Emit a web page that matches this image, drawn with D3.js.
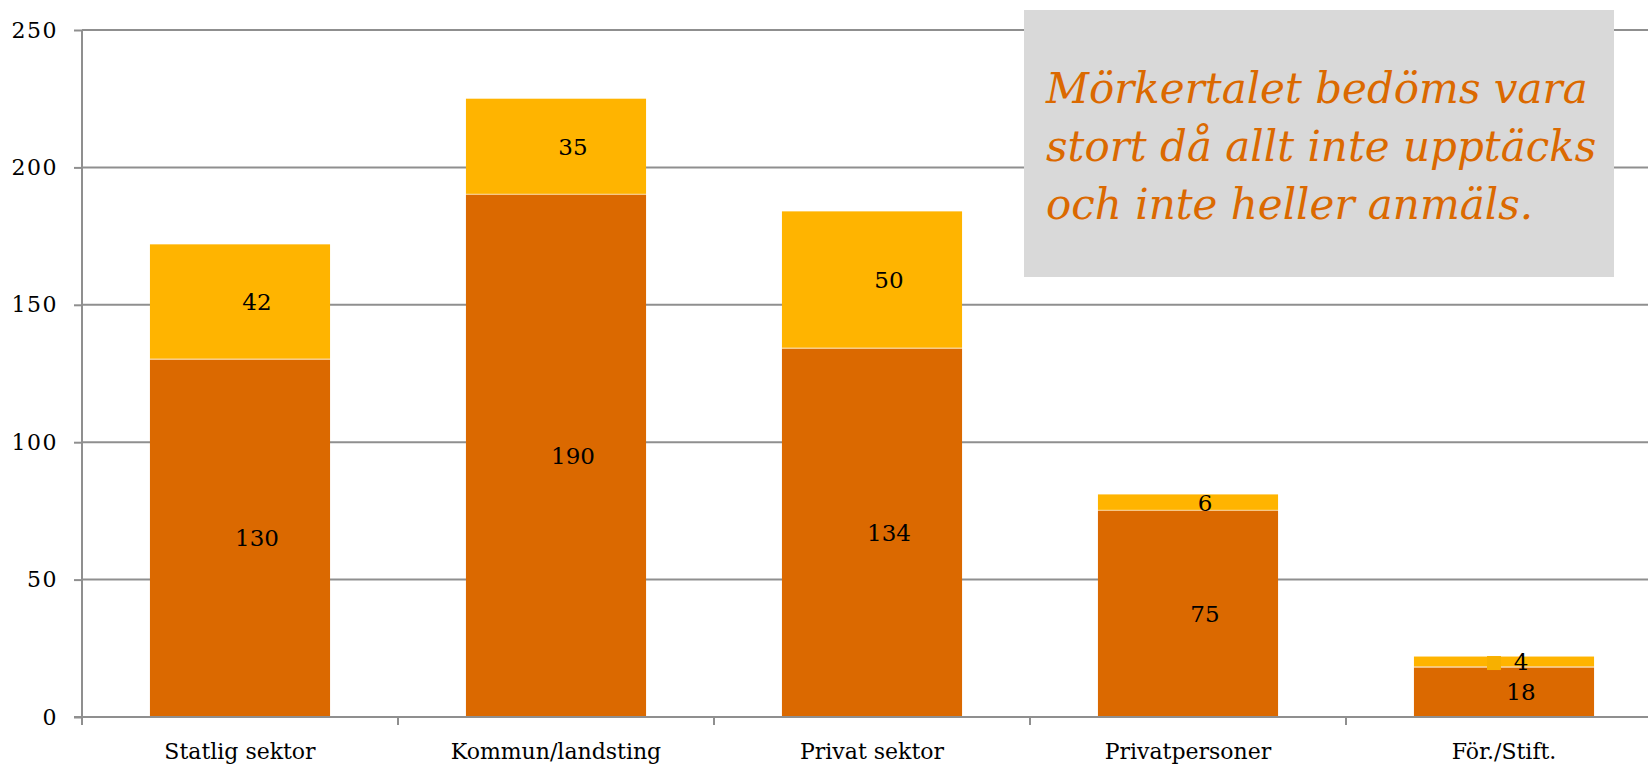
<!DOCTYPE html>
<html>
<head>
<meta charset="utf-8">
<script src="https://cdn.jsdelivr.net/npm/d3@7"></script>
<style>
  body { margin: 0; background: #fff; overflow: hidden; }
  svg { display: block; }
</style>
</head>
<body>
<script>
// chart data
const categories = ['Statlig sektor', 'Kommun/landsting', 'Privat sektor', 'Privatpersoner', 'För./Stift.'];
const reported = [130, 190, 134, 75, 18];
const darkNumber = [42, 35, 50, 6, 4];
const yTicks = [0, 50, 100, 150, 200, 250];
const noteLines = ['Mörkertalet bedöms vara', 'stort då allt inte upptäcks', 'och inte heller anmäls.'];

const svgWidth = 1648;
const svgHeight = 766;
const margin = {top: 30, left: 82, bottom: 49};
const plotWidth = 1580;
const plotHeight = svgHeight - margin.top - margin.bottom;

const colors = {low: '#DB6900', high: '#FFB400', grid: '#8f8f8f', note: '#DB6900', box: '#D9D9D9'};

const svg = d3.select('body')
              .append('svg')
              .attr('width', svgWidth)
              .attr('height', svgHeight);

const inner = svg.append('g')
                 .attr('transform', 'translate(' + margin.left + ',' + margin.top + ')');

const xScale = d3.scaleBand()
                 .domain(categories)
                 .range([0, plotWidth])
                 .paddingInner(0.43)
                 .paddingOuter(0.215);

const yScale = d3.scaleLinear()
                 .domain([0, 250])
                 .range([plotHeight, 0]);

// gridlines
inner.selectAll('line.grid')
     .data(yTicks.filter(d => d > 0))
     .enter()
     .append('line')
     .attr('class', 'grid')
     .attr('x1', 0)
     .attr('x2', plotWidth)
     .attr('y1', d => yScale(d))
     .attr('y2', d => yScale(d))
     .attr('stroke', colors.grid)
     .attr('stroke-width', 2);

// stacked bars
const stacks = categories.map((c, i) => ({cat: c, low: reported[i], high: darkNumber[i]}));

inner.selectAll('rect.low')
     .data(stacks)
     .enter()
     .append('rect')
     .attr('class', 'low')
     .attr('x', d => xScale(d.cat))
     .attr('width', xScale.bandwidth())
     .attr('y', d => yScale(d.low))
     .attr('height', d => yScale(0) - yScale(d.low))
     .attr('fill', colors.low);

inner.selectAll('rect.high')
     .data(stacks)
     .enter()
     .append('rect')
     .attr('class', 'high')
     .attr('x', d => xScale(d.cat))
     .attr('width', xScale.bandwidth())
     .attr('y', d => yScale(d.low + d.high))
     .attr('height', d => yScale(d.low) - yScale(d.low + d.high) - 1)
     .attr('fill', colors.high);

// thin light seam between the two segments
inner.selectAll('line.seam')
     .data(stacks)
     .enter()
     .append('line')
     .attr('x1', d => xScale(d.cat))
     .attr('x2', d => xScale(d.cat) + xScale.bandwidth())
     .attr('y1', d => yScale(d.low) - 0.5)
     .attr('y2', d => yScale(d.low) - 0.5)
     .attr('stroke', '#F5C27A')
     .attr('stroke-width', 1);

// leftover legend key inside the last bar
const last = stacks[stacks.length - 1];
inner.append('rect')
     .attr('x', xScale(last.cat) + xScale.bandwidth() / 2 - 17)
     .attr('y', yScale(last.low + last.high / 2) - 6)
     .attr('width', 14)
     .attr('height', 14)
     .attr('fill', '#F7B000');

// value labels
const labelFont = "'DejaVu Serif', serif";
inner.selectAll('text.lowLabel')
     .data(stacks)
     .enter()
     .append('text')
     .attr('x', d => xScale(d.cat) + xScale.bandwidth() / 2 + 17)
     .attr('y', d => yScale(d.low / 2))
     .attr('dy', '0.35em')
     .attr('text-anchor', 'middle')
     .style('font-family', labelFont)
     .style('font-size', '23px')
     .text(d => d.low);

inner.selectAll('text.highLabel')
     .data(stacks)
     .enter()
     .append('text')
     .attr('x', d => xScale(d.cat) + xScale.bandwidth() / 2 + 17)
     .attr('y', d => yScale(d.low + d.high / 2))
     .attr('dy', '0.35em')
     .attr('text-anchor', 'middle')
     .style('font-family', labelFont)
     .style('font-size', '23px')
     .text(d => d.high);

// axes
const yAxis = d3.axisLeft(yScale).tickValues(yTicks).tickSize(8).tickPadding(16);
const yG = inner.append('g').call(yAxis);
yG.selectAll('line, path').attr('stroke', colors.grid).attr('stroke-width', 2);
yG.select('path').attr('d', 'M0,0V' + plotHeight);
yG.selectAll('text')
  .style('font-family', labelFont)
  .style('font-size', '22px')
  .style('letter-spacing', '1.5px')
  .attr('fill', '#000');

const xBoundary = d3.scaleLinear().domain([0, categories.length]).range([0, plotWidth]);
const xG = inner.append('g').attr('transform', 'translate(0,' + plotHeight + ')');
xG.append('line')
  .attr('x1', -8).attr('x2', plotWidth)
  .attr('stroke', colors.grid).attr('stroke-width', 2);
xG.selectAll('line.tick')
  .data(d3.range(categories.length + 1))
  .enter()
  .append('line')
  .attr('x1', d => xBoundary(d)).attr('x2', d => xBoundary(d))
  .attr('y1', 0).attr('y2', 8)
  .attr('stroke', colors.grid).attr('stroke-width', 2);
xG.selectAll('text')
  .data(categories)
  .enter()
  .append('text')
  .attr('x', d => xScale(d) + xScale.bandwidth() / 2)
  .attr('y', 42)
  .attr('text-anchor', 'middle')
  .style('font-family', labelFont)
  .style('font-size', '22px')
  .text(d => d);

// note box
const note = svg.append('g');
note.append('rect')
    .attr('x', 1024)
    .attr('y', 10)
    .attr('width', 590)
    .attr('height', 267)
    .attr('fill', colors.box);
note.selectAll('text')
    .data(noteLines)
    .enter()
    .append('text')
    .attr('x', 1046)
    .attr('y', (d, i) => 103 + i * 58)
    .style('font-family', "'DejaVu Serif', serif")
    .style('font-style', 'italic')
    .style('font-size', '42px')
    .attr('fill', colors.note)
    .text(d => d);
</script>
</body>
</html>
